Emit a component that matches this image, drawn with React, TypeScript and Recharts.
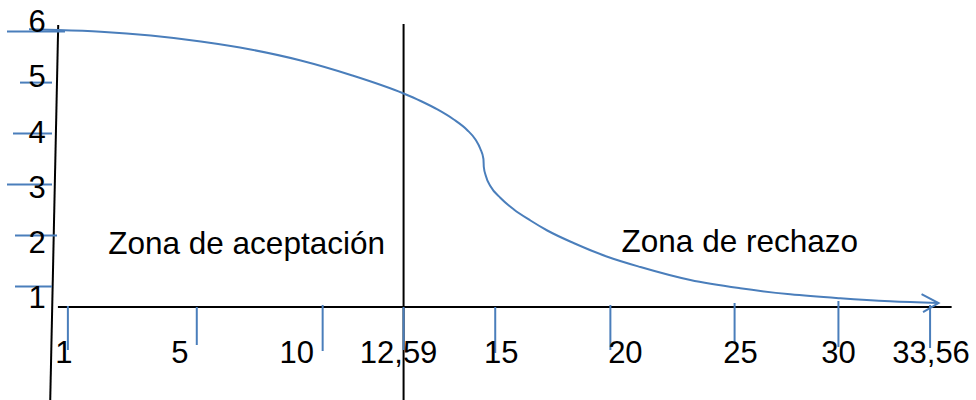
import React from 'react';
import { LineChart, Line, XAxis, YAxis, ReferenceLine, ReferenceDot } from 'recharts';

// ---- data ----
const xTickValues = [1, 5, 10, 12.59, 15, 20, 25, 30, 33.56];
const xTickLabels = ['1', '5', '10', '12,59', '15', '20', '25', '30', '33,56'];
const yTickValues = [1, 2, 3, 4, 5, 6];
const yTickLabels = ['1', '2', '3', '4', '5', '6'];

const curveX = [
  -0.21, 0.69, 2.02, 3.57, 5.16, 7.14, 9.13, 10.9, 12.59, 13.04, 13.48, 13.91, 14.26, 14.48, 14.61, 14.69,
  14.7, 14.75, 14.88, 15.23, 15.81, 16.53, 17.26, 18.4, 19.87, 21.21, 23.22, 25.27, 27.68, 30.07, 32.01, 33.89,
];
const curveY = [
  6.045, 6.031, 5.998, 5.924, 5.806, 5.649, 5.433, 5.149, 4.786, 4.639, 4.473, 4.276, 4.071, 3.884, 3.698, 3.502,
  3.345, 3.178, 2.963, 2.737, 2.512, 2.296, 2.1, 1.855, 1.586, 1.384, 1.129, 0.967, 0.849, 0.771, 0.712, 0.678,
];

const criticalValue = 12.59;
const zoneNames = ['Zona de aceptación', 'Zona de rechazo'];
const zoneLabelX = [6.98, 25.25];
const zoneLabelY = [1.86, 1.89];

// ---- axis layout (hand-drawn, non-uniform axis) ----
const xDomain = [-1.08, 35.35];
const yDomain = [0.6, 6.6];
const xAxisKnotFrac = [0, 0.0686, 0.2008, 0.3299, 0.4129, 0.5069, 0.625, 0.7524, 0.8589, 0.9529, 1];
const xAxisLineExtent = [0.69, 34.4];
const yAxisLineEnds = [
  { x: 0.699, y: 6.129 },
  { x: 0.451, y: -1.224 },
];
const criticalLineYExtent = [6.149, -1.224];

// ---- styles ----
const BLUE = '#4a7ebb';
const FONT = "'Liberation Sans', Arial, sans-serif";
const xTickMarkTop = [-1, 0, -2, 0, 0, -2, -4, -6, -2];
const xTickMarkBottom = [43, 38, 44, 43, 46, 43, 35, 40, 41];
const xLabelDx = [-4, -17, -26, -5, 6, 15, 6, 0, 1];
const yTickMarkFrom = [15, 15, 7, 13, 20, 7];
const yTickMarkTo = [52, 57, 52, 52, 52, 65];
const yLabelDy = [21.4, 17.7, 13.4, 9.7, 4.7, 0.1];

function piecewiseScale(knots: number[], fracs: number[]): any {
  let dom: number[] = [knots[0], knots[knots.length - 1]];
  let rng: number[] = [0, 1];
  const s: any = (v: number) => {
    const n = knots.length;
    let i = 0;
    while (i < n - 2 && v > knots[i + 1]) i++;
    const t = fracs[i] + ((v - knots[i]) / (knots[i + 1] - knots[i])) * (fracs[i + 1] - fracs[i]);
    return rng[0] + t * (rng[1] - rng[0]);
  };
  s.domain = (d?: number[]) => {
    if (d === undefined) return dom.slice();
    dom = d.slice();
    return s;
  };
  s.range = (r?: number[]) => {
    if (r === undefined) return rng.slice();
    rng = r.slice();
    return s;
  };
  s.copy = () => piecewiseScale(knots, fracs).domain(dom).range(rng);
  s.ticks = () => knots.slice(1, -1);
  s.tickFormat = () => (v: number) => String(v);
  return s;
}

const xScale = piecewiseScale([xDomain[0], ...xTickValues, xDomain[1]], xAxisKnotFrac);

const data = curveX.map((x, i) => ({ x, y: curveY[i] }));

const XTick = (props: any) => {
  const { x, y, payload } = props;
  const i = xTickValues.indexOf(payload.value);
  if (i < 0) return null;
  return (
    <g>
      <line x1={x} x2={x} y1={y + xTickMarkTop[i]} y2={y + xTickMarkBottom[i]} stroke={BLUE} strokeWidth={2} />
      <text x={x + xLabelDx[i]} y={y + 56} textAnchor="middle" fontSize={31} fontFamily={FONT} fill="#000">
        {xTickLabels[i]}
      </text>
    </g>
  );
};

const YTick = (props: any) => {
  const { y, payload } = props;
  const i = yTickValues.indexOf(payload.value);
  if (i < 0) return null;
  return (
    <g>
      <line x1={yTickMarkFrom[i]} x2={yTickMarkTo[i]} y1={y} y2={y} stroke={BLUE} strokeWidth={2} />
      <text x={37} y={y + yLabelDy[i]} textAnchor="middle" fontSize={31} fontFamily={FONT} fill="#000">
        {yTickLabels[i]}
      </text>
    </g>
  );
};

const ArrowDot = (props: any) => {
  const { cx, cy, index } = props;
  if (index !== data.length - 1) return <g key={`d${index}`} />;
  return (
    <path
      key={`d${index}`}
      d={`M${cx - 17},${cy - 9} L${cx},${cy} L${cx - 15.5},${cy + 9}`}
      stroke={BLUE}
      strokeWidth={2}
      fill="none"
    />
  );
};

export default function App() {
  return (
    <div style={{ position: 'absolute', left: 0, top: 0, width: 976, height: 400, background: '#fff', fontFamily: FONT }}>
      <LineChart width={976} height={400} data={data} margin={{ top: 1, right: 0, bottom: 0, left: 0 }}>
        <XAxis
          dataKey="x"
          type="number"
          scale={xScale}
          domain={xDomain}
          ticks={xTickValues}
          interval={0}
          height={93}
          axisLine={false}
          tickLine={false}
          tickSize={0}
          tickMargin={0}
          tick={<XTick />}
        />
        <YAxis
          type="number"
          domain={yDomain}
          ticks={yTickValues}
          interval={0}
          width={1}
          axisLine={false}
          tickLine={false}
          tickSize={0}
          tickMargin={0}
          tick={<YTick />}
        />
        <ReferenceLine
          segment={[
            { x: xAxisLineExtent[0], y: yDomain[0] },
            { x: xAxisLineExtent[1], y: yDomain[0] },
          ]}
          stroke="#000"
          strokeWidth={2}
          ifOverflow="visible"
        />
        <ReferenceLine segment={yAxisLineEnds} stroke="#000" strokeWidth={2} ifOverflow="visible" />
        <ReferenceLine
          segment={[
            { x: criticalValue, y: criticalLineYExtent[0] },
            { x: criticalValue, y: criticalLineYExtent[1] },
          ]}
          stroke="#000"
          strokeWidth={2}
          ifOverflow="visible"
        />
        {zoneNames.map((name, i) => (
          <ReferenceDot
            key={name}
            x={zoneLabelX[i]}
            y={zoneLabelY[i]}
            r={0}
            fill="none"
            stroke="none"
            ifOverflow="visible"
            label={{ value: name, position: 'center', fill: '#000', fontSize: 31.5, fontFamily: FONT }}
          />
        ))}
        <Line
          dataKey="y"
          type="monotone"
          stroke={BLUE}
          strokeWidth={2}
          dot={<ArrowDot />}
          activeDot={false}
          isAnimationActive={false}
        />
      </LineChart>
    </div>
  );
}
